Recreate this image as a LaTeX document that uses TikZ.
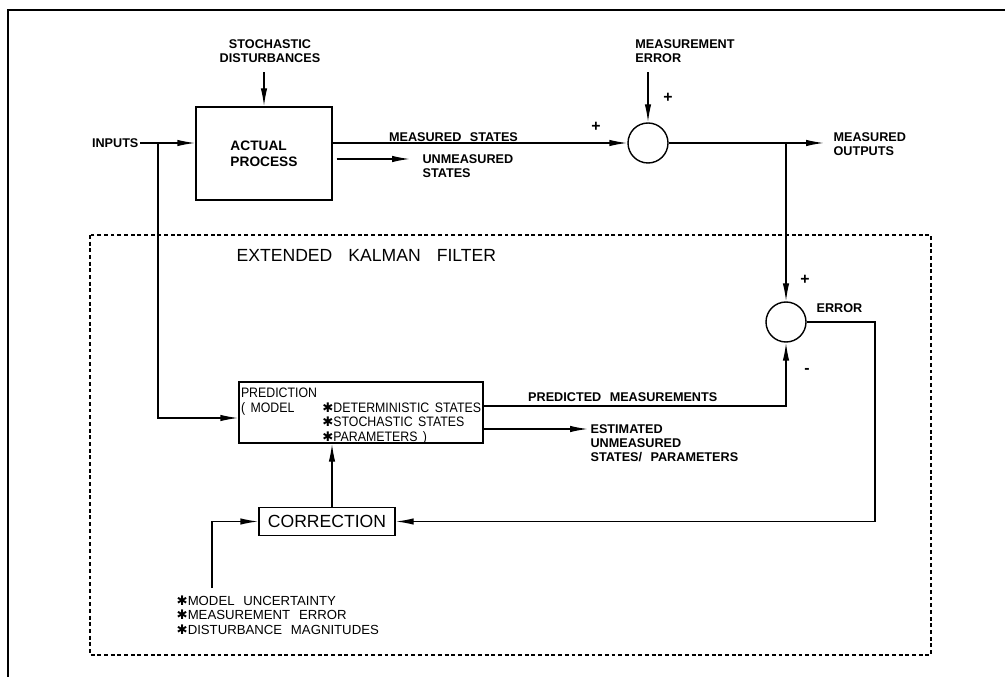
\documentclass[tikz,border=0pt]{standalone}
\usepackage{fontspec}
\setmainfont{Liberation Sans}[WordSpace=2.4]
\newfontfamily\widefamily{Liberation Sans}[WordSpace=3.3]
\newfontfamily\narrowfamily{Liberation Sans}[FakeStretch=0.9, WordSpace=1.6]
\newfontfamily\symfamily{DejaVu Sans}
\usetikzlibrary{shapes,arrows.meta}
\newcommand{\tagfont}{\fontsize{7.2}{8}\selectfont\bfseries}
\newcommand{\notefont}{\fontsize{7.5}{8.2}\selectfont}
\newcommand{\predfont}{\narrowfamily\fontsize{7.8}{8.2}\selectfont}
\newcommand{\bigfont}{\widefamily\fontsize{10}{12}\selectfont}
\newcommand{\starmark}{{\symfamily\fontsize{7.5}{8}\selectfont ✱}}
\tikzstyle{block} = [draw, rectangle, line width=0.8pt]
\tikzstyle{sum} = [draw, circle, minimum size=8mm, inner sep=0pt, line width=0.8pt]
\tikzstyle{tag} = [font=\tagfont, align=left, inner sep=0.5pt]
\tikzstyle{note} = [font=\notefont, align=left, inner sep=0pt]
\tikzstyle{sign} = [font=\bfseries\fontsize{9}{10}\selectfont, inner sep=0pt]
\tikzstyle{filterbox} = [line width=1pt, dash pattern=on 2.2pt off 1.6pt]

\begin{document}
\begin{tikzpicture}[x=0.2mm, y=-0.2mm, line width=0.8pt, >={Latex[length=3.6mm,width=1.3mm]}]
    \useasboundingbox (0,0) rectangle (1005,677);
    % Outer frame and the filter boundary
    \draw [line width=1.2pt] (8,677) -- (8,10) -- (1005,10);
    \draw [filterbox] (90,235) rectangle (931,655);
    \node [font=\bigfont, anchor=west, inner sep=0pt] (ekf) at (236,255) {EXTENDED KALMAN FILTER};

    % We start by placing the process side
    \node [tag, anchor=east] (inputs) at (140,143) {INPUTS};
    \coordinate (split) at (158,143);
    \node [block, minimum width=27.2mm, minimum height=18.6mm, font=\fontsize{7.8}{9}\selectfont\bfseries, align=left] (process) at (264,153.5) {ACTUAL\\PROCESS};
    \node [tag, align=center] (stoch) at (270,51) {STOCHASTIC\\DISTURBANCES};
    \node [sum] (sum1) at (648,143) {};
    \node [tag] (merr) at (685,51) {MEASUREMENT\\ERROR};
    \coordinate (umout) at (410,159);
    \node [tag, anchor=west] (unmeas) at (421,166) {UNMEASURED\\STATES};
    \coordinate (tap) at (786,143);
    \node [tag, anchor=west] (mout) at (832,144) {MEASURED\\OUTPUTS};

    % Then the filter blocks
    \node [sum] (sum2) at (786,322) {};
    \node [tag, anchor=west] (err) at (815,308) {ERROR};
    \node [block, minimum width=48.8mm, inner sep=0pt, text height=11.8mm, text depth=0.4mm, font=\predfont] (pred) at (361,412.5)
        {\begin{tabular}[b]{@{}l@{\hspace{3pt}}l@{}}
         PREDICTION & \\
         ( MODEL & \starmark DETERMINISTIC STATES \\
                 & \starmark STOCHASTIC STATES \\
                 & \starmark PARAMETERS )
         \end{tabular}};
    \coordinate (estout) at (588,429);
    \node [tag, anchor=west] (est) at (589,443) {ESTIMATED\\UNMEASURED\\STATES/ PARAMETERS};
    \node [block, minimum width=27.2mm, minimum height=5.6mm, font=\bigfont] (corr) at (327,521.5) {CORRECTION};
    \node [note, anchor=west] (unc) at (176,615) {\starmark MODEL UNCERTAINTY\\\starmark MEASUREMENT ERROR\\\starmark DISTURBANCE MAGNITUDES};
    \coordinate (uncin) at (212,588);
    \coordinate (ebend) at (875,450);

    % Signs at the summing points
    \node [sign] (p1) at (596,127) {+};
    \node [sign] (p2) at (668,98) {+};
    \node [sign] (p3) at (805,280) {+};
    \node [sign] (m3) at (807,371) {-};

    % Once the nodes are placed, connecting them is easy.
    \draw [->] (inputs.east) -- (inputs.east -| process.west);
    \draw [->] ([yshift=-1.6mm]stoch.south -| process.north) -- (process.north);
    \draw [->] (process.east |- split) -- node [tag, above=0.3pt, pos=0.41, inner sep=0pt] {MEASURED STATES} (sum1.west);
    \draw [->] ([xshift=0.8mm]umout -| process.east) -- (umout);
    \draw [->] ([yshift=-1.6mm]merr.south -| sum1.north) -- (sum1.north);
    \draw [->] (sum1.east) -- ([xshift=-1.6mm]mout.west |- sum1.east);
    \draw [->] (tap) -- (sum2.north);
    \draw [->] (split) |- (pred.west |- 0,418);
    \draw [->] ([yshift=1.3mm]pred.east) -| node [tag, above=0.8mm, pos=0.23, inner sep=0pt] {PREDICTED MEASUREMENTS} (sum2.south);
    \draw [->] (estout -| pred.east) -- (estout);
    \draw [->] (sum2.east) -| (ebend) |- (corr.east);
    \draw [->] ([xshift=1mm]corr.north) -- ([xshift=1mm]corr.north |- pred.south);
    \draw [->] (uncin) |- (corr.west);
\end{tikzpicture}
\end{document}
